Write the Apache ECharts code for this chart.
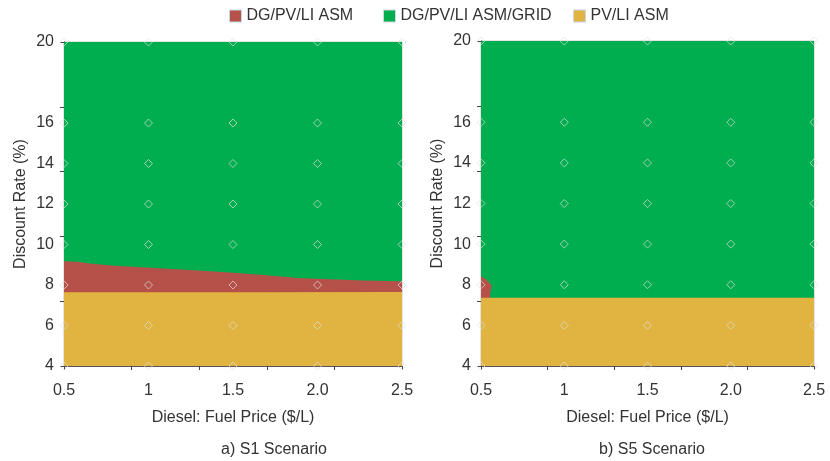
<!DOCTYPE html>
<html>
<head>
<meta charset="utf-8">
<script src="https://cdn.jsdelivr.net/npm/echarts@6/dist/echarts.min.js"></script>
<style>html,body{margin:0;padding:0;background:#fff}#c{width:830px;height:461px}</style>
</head>
<body>
<div id="c"></div>
<script>
const legendNames = ['DG/PV/LI ASM', 'DG/PV/LI ASM/GRID', 'PV/LI ASM'];
const fuelPrice = [0.5, 1, 1.5, 2.0, 2.5];
const discountRate = [4, 6, 8, 10, 12, 14, 16, 20];
const xTickLabels = ['0.5', '1', '1.5', '2.0', '2.5'];
const yTickLabels = ['4', '6', '8', '10', '12', '14', '16', '', '20'];
const xAxisTitle = 'Diesel: Fuel Price ($/L)';
const yAxisTitle = 'Discount Rate (%)';
const panelTitles = ['a) S1 Scenario', 'b) S5 Scenario'];

// boundaries (upper edge of each region)
const s1GreenTop = [[0.5, 20], [2.5, 20]];
const s1RedTop = [[0.5, 9.17], [0.58, 9.15], [0.65, 9.06], [0.8, 8.95], [1.01, 8.85], [1.22, 8.75], [1.48, 8.62], [1.68, 8.5], [1.88, 8.35], [2.27, 8.22], [2.5, 8.19]];
const s1YellowTop = [[0.5, 7.64], [1.68, 7.64], [1.69, 7.66], [2.5, 7.66]];
const s5GreenTop = [[0.5, 20], [2.5, 20]];
const s5RedTop = [[0.5, 8.42], [0.51, 8.45], [0.525, 8.3], [0.545, 8.15], [0.565, 7.95], [0.555, 7.6], [0.556, 7.36]];
const s5YellowTop = [[0.5, 7.36], [2.5, 7.36]];

const colors = { 'DG/PV/LI ASM': '#b6514a', 'DG/PV/LI ASM/GRID': '#00ad4f', 'PV/LI ASM': '#e1b441' };

const chart = echarts.init(document.getElementById('c'), null, { renderer: 'canvas' });
const txt = '#333';
const font = 'Liberation Sans, Arial, sans-serif';
const fs = 16;

const grids = [
  { left: 64, top: 42, width: 338, height: 324 },
  { left: 481, top: 41, width: 333, height: 325 }
];

const xAxes = [], yAxes = [];
grids.forEach((g, i) => {
  xAxes.push({
    type: 'value', gridIndex: i, min: 0.5, max: 2.5, interval: 0.5, position: 'bottom',
    axisLine: { show: true, lineStyle: { color: '#555', width: 1 } },
    axisTick: { show: false }, splitLine: { show: false },
    axisLabel: { color: txt, fontSize: fs, fontFamily: font, margin: 17,
      formatter: v => xTickLabels[Math.round((v - 0.5) / 0.5)] },
    name: xAxisTitle, nameLocation: 'middle', nameGap: 44,
    nameTextStyle: { color: txt, fontSize: fs, fontFamily: font }
  });
  xAxes.push({
    type: 'value', gridIndex: i, min: 0.5, max: 2.5, interval: 0.4, position: 'bottom',
    axisLine: { show: false }, splitLine: { show: false }, axisLabel: { show: false },
    axisTick: { show: true, inside: false, length: 4, lineStyle: { color: '#444' } }
  });
  yAxes.push({
    type: 'value', gridIndex: i, min: 4, max: 20, interval: 2, position: 'left',
    axisLine: { show: true, lineStyle: { color: '#222', width: 1 } },
    axisTick: { show: false }, splitLine: { show: false },
    axisLabel: { color: txt, fontSize: fs, fontFamily: font, margin: 10,
      formatter: v => yTickLabels[Math.round((v - 4) / 2)] },
    name: yAxisTitle, nameLocation: 'middle', nameGap: 35, nameRotate: 90,
    nameTextStyle: { color: txt, fontSize: fs, fontFamily: font }
  });
  yAxes.push({
    type: 'value', gridIndex: i, min: 4, max: 20, interval: 3.2, position: 'left',
    axisLine: { show: false }, splitLine: { show: false }, axisLabel: { show: false },
    axisTick: { show: true, inside: false, length: 4, lineStyle: { color: '#444' } }
  });
});

function area(name, data, gi) {
  return {
    type: 'line', name, data, xAxisIndex: gi * 2, yAxisIndex: gi * 2,
    showSymbol: false, symbol: 'none', silent: true,
    lineStyle: { width: 0, color: colors[name] },
    itemStyle: { color: colors[name] },
    areaStyle: { color: colors[name], opacity: 1, origin: 'start' }
  };
}

const markerPts = [];
fuelPrice.forEach(x => discountRate.forEach(y => markerPts.push([x, y])));

function markers(gi) {
  return {
    type: 'scatter', data: markerPts, xAxisIndex: gi * 2, yAxisIndex: gi * 2,
    symbol: 'diamond', symbolSize: 8, silent: true, z: 5,
    itemStyle: { color: 'rgba(0,0,0,0)', borderColor: 'rgba(225,225,225,0.85)', borderWidth: 1 }
  };
}

const series = [
  area('DG/PV/LI ASM/GRID', s1GreenTop, 0),
  area('DG/PV/LI ASM', s1RedTop, 0),
  area('PV/LI ASM', s1YellowTop, 0),
  markers(0),
  area('DG/PV/LI ASM/GRID', s5GreenTop, 1),
  area('DG/PV/LI ASM', s5RedTop, 1),
  area('PV/LI ASM', s5YellowTop, 1),
  markers(1)
];

const legendLefts = [229, 383, 573];
const legendTextGaps = [5, 9, 7];
const legends = legendNames.map((n, i) => ({
  data: [n], left: legendLefts[i], top: 8, icon: 'rect', itemWidth: 12, itemHeight: 12,
  itemGap: 0, padding: 0, itemTextGap: legendTextGaps[i], selectedMode: false,
  itemStyle: { borderColor: '#c9d5e8', borderWidth: 1 },
  textStyle: { color: txt, fontSize: fs, fontFamily: font }
}));

chart.setOption({
  animation: false,
  backgroundColor: '#fff',
  grid: grids.map(g => Object.assign({ show: true, borderColor: '#c8c8c8', borderWidth: 1, backgroundColor: 'transparent' }, g)),
  xAxis: xAxes,
  yAxis: yAxes,
  legend: legends,
  series,
  graphic: [
    { type: 'text', x: 274, y: 450, style: { text: panelTitles[0], fill: txt, font: fs + 'px ' + font, textAlign: 'center', textVerticalAlign: 'middle' } },
    { type: 'text', x: 652, y: 450, style: { text: panelTitles[1], fill: txt, font: fs + 'px ' + font, textAlign: 'center', textVerticalAlign: 'middle' } }
  ]
});
</script>
</body>
</html>
